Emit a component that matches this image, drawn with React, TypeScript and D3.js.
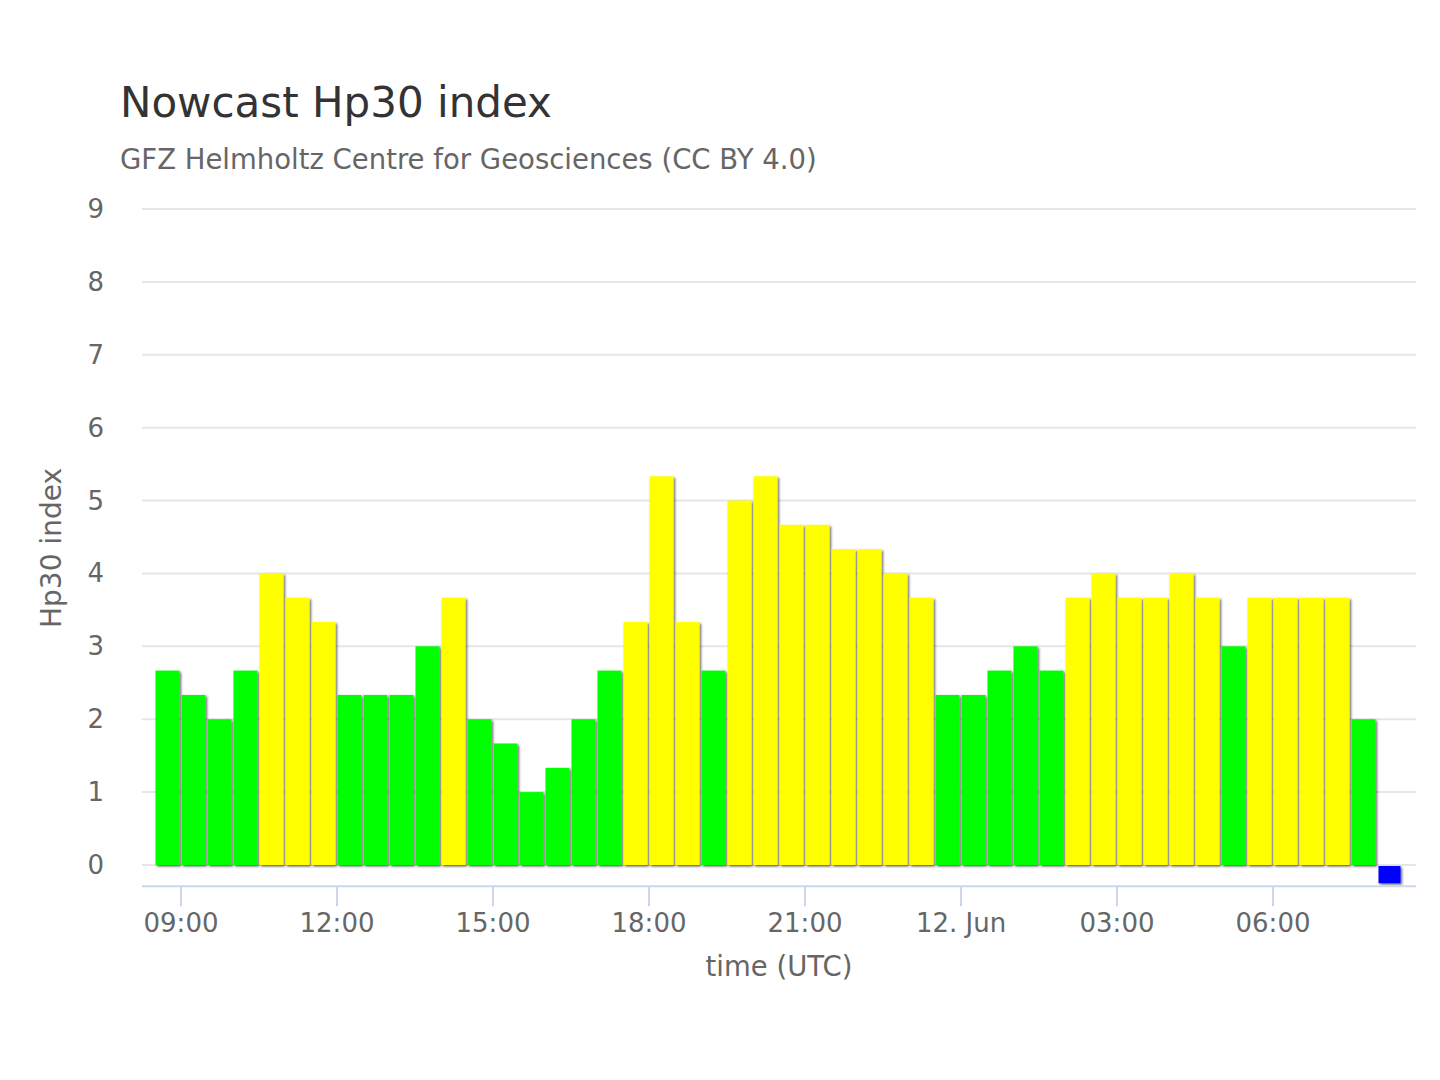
import React, { useEffect, useRef } from 'react';
import * as d3 from 'd3';

// Hp30 values, one every 30 minutes, first interval centred on 11 Jun 08:45 UTC
const startTime = '2024-06-11T08:45:00Z';
const hp30Values = [
  2.667, 2.333, 2.0, 2.667, 4.0, 3.667, 3.333, 2.333, 2.333, 2.333, 3.0, 3.667,
  2.0, 1.667, 1.0, 1.333, 2.0, 2.667, 3.333, 5.333, 3.333, 2.667, 5.0, 5.333,
  4.667, 4.667, 4.333, 4.333, 4.0, 3.667, 2.333, 2.333, 2.667, 3.0, 2.667, 3.667,
  4.0, 3.667, 3.667, 4.0, 3.667, 3.0, 3.667, 3.667, 3.667, 3.667, 2.0, -0.25,
];
const yTicks = [0, 1, 2, 3, 4, 5, 6, 7, 8, 9];
const stormThreshold = 3.2;

const Chart: React.FC = () => {
  const svgRef = useRef<SVGSVGElement>(null);

  useEffect(() => {
    document.body.style.margin = '0';
    const svg = d3.select(svgRef.current);
    svg.selectAll('*').remove();

    const font = '"DejaVu Sans", sans-serif';
    const left = 142;
    const right = 1416;
    const halfHour = 30 * 60 * 1000;
    const t0 = new Date(startTime).getTime();
    const data = hp30Values.map((v, i) => ({ t: new Date(t0 + i * halfHour), v }));

    const x = d3
      .scaleUtc()
      .domain([new Date(t0 - halfHour), new Date(t0 + hp30Values.length * halfHour)])
      .range([left, right]);
    const y = d3.scaleLinear().domain([0, 9]).range([865, 209]);
    const axisY = y(-0.29);

    // highcharts-like column shadow
    const defs = svg.append('defs');
    const f = defs.append('filter').attr('id', 'shadow').attr('x', '-20%').attr('y', '-20%').attr('width', '140%').attr('height', '140%');
    f.append('feDropShadow').attr('dx', 1.5).attr('dy', 1.5).attr('stdDeviation', 1.2).attr('flood-color', '#000').attr('flood-opacity', 0.6);

    svg.append('text').attr('x', 120).attr('y', 117).attr('font-family', font).attr('font-size', 42).attr('fill', '#333').text('Nowcast Hp30 index');
    svg.append('text').attr('x', 120).attr('y', 169).attr('font-family', font).attr('font-size', 27.5).attr('fill', '#666').text('GFZ Helmholtz Centre for Geosciences (CC BY 4.0)');

    // grid + y labels
    const grid = svg.append('g');
    yTicks.forEach(t => {
      grid.append('line').attr('x1', left).attr('x2', right).attr('y1', y(t)).attr('y2', y(t)).attr('stroke', '#e6e6e6').attr('stroke-width', 2);
      grid.append('text').attr('x', 104).attr('y', y(t) + 9).attr('text-anchor', 'end').attr('font-family', font).attr('font-size', 26).attr('fill', '#666').text(t);
    });

    svg.append('text')
      .attr('transform', `translate(61,548) rotate(-90)`)
      .attr('text-anchor', 'middle')
      .attr('font-family', font)
      .attr('font-size', 28)
      .attr('fill', '#666')
      .text('Hp30 index');

    // bars
    const bw = x(new Date(t0 + halfHour)) - x(new Date(t0));
    const color = (v: number) => (v < 0 ? '#0000ff' : v > stormThreshold ? '#ffff00' : '#00ff00');
    svg.append('g')
      .selectAll('rect')
      .data(data)
      .enter()
      .append('rect')
      .attr('x', d => x(d.t) - bw / 2 + (d.v < 0 ? 1.5 : 0.5))
      .attr('width', d => (d.v < 0 ? bw - 4 : bw - 2))
      .attr('y', d => (d.v < 0 ? y(0) + 1 : y(d.v)))
      .attr('height', d => Math.abs(y(d.v) - y(0)) - (d.v < 0 ? 1 : 0))
      .attr('fill', d => color(d.v))
      .attr('filter', 'url(#shadow)');

    // x axis
    const ticks = x.ticks(d3.utcHour.every(3)!);
    const fmt = (d: Date) => (d.getUTCHours() === 0 ? `${d.getUTCDate()}. ${d3.utcFormat('%b')(d)}` : d3.utcFormat('%H:%M')(d));
    const xa = svg.append('g');
    xa.append('line').attr('x1', left).attr('x2', right).attr('y1', axisY).attr('y2', axisY).attr('stroke', '#ccd6eb').attr('stroke-width', 2);
    ticks.forEach(t => {
      xa.append('line').attr('x1', x(t)).attr('x2', x(t)).attr('y1', axisY).attr('y2', axisY + 20).attr('stroke', '#ccd6eb').attr('stroke-width', 2);
      xa.append('text').attr('x', x(t)).attr('y', 932).attr('text-anchor', 'middle').attr('font-family', font).attr('font-size', 26).attr('fill', '#666').text(fmt(t));
    });
    svg.append('text').attr('x', 779).attr('y', 976).attr('text-anchor', 'middle').attr('font-family', font).attr('font-size', 27.5).attr('fill', '#666').text('time (UTC)');
  }, []);

  return <svg ref={svgRef} width={1440} height={1080} style={{ display: 'block', background: '#fff' }}></svg>;
};

export default function App() {
  return <Chart />;
}
